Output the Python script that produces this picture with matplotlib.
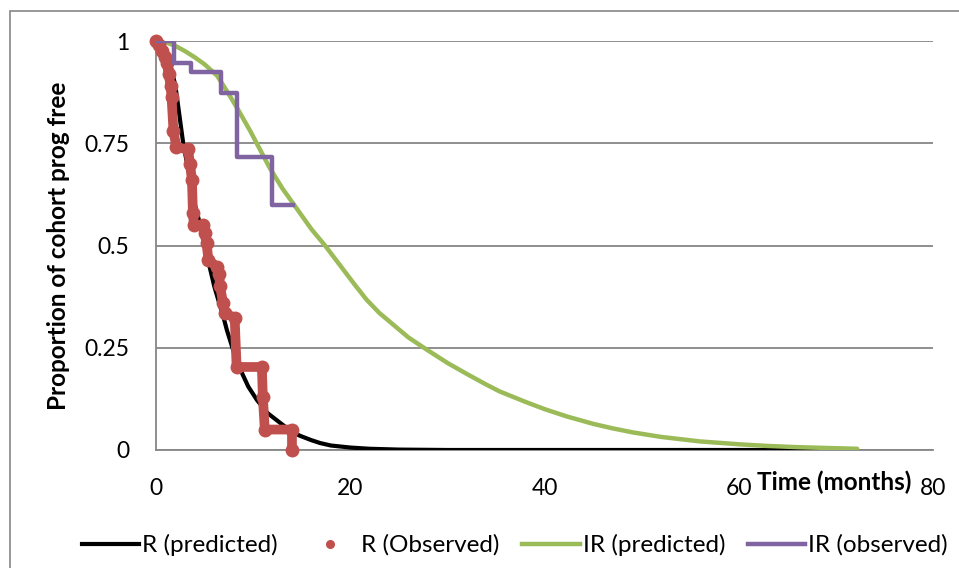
import matplotlib
matplotlib.use("Agg")
from matplotlib import pyplot as plt
from matplotlib.lines import Line2D
from matplotlib.patches import Rectangle

plt.rcParams['font.family'] = ['Lato', 'DejaVu Sans']

# R (predicted) - model curve
t_r_pred = [0, 0.5, 1, 1.5, 2, 2.4, 2.8, 3.2, 3.6, 4, 4.5, 5, 5.6, 6, 6.5, 7, 7.3, 8,
            8.7, 9.5, 10.4, 11.5, 12.8, 13.8, 14.8, 16, 16.9, 18, 20, 22, 25, 30, 40,
            50, 60, 72]
s_r_pred = [1, 0.995, 0.975, 0.94, 0.89, 0.82, 0.75, 0.70, 0.65, 0.60, 0.555, 0.50,
            0.44, 0.40, 0.36, 0.32, 0.293, 0.24, 0.196, 0.155, 0.122, 0.09, 0.066,
            0.048, 0.035, 0.024, 0.017, 0.011, 0.006, 0.003, 0.001, 0, 0, 0, 0, 0]

# R (Observed) - KM path vertices
t_r_obs = [0, 0.3, 0.6, 0.9, 1.1, 1.3, 1.5, 1.6, 1.8, 2.1, 3.3, 3.5, 3.7, 3.8, 3.9,
           4.8, 5.0, 5.2, 5.4, 6.3, 6.5, 6.6, 6.9, 7.1, 8.1, 8.3, 10.9, 11.0, 11.2,
           14.0, 14.0]
s_r_obs = [1, 0.99, 0.975, 0.96, 0.946, 0.92, 0.89, 0.863, 0.78, 0.74, 0.735, 0.70,
           0.66, 0.58, 0.55, 0.55, 0.53, 0.506, 0.465, 0.447, 0.43, 0.40, 0.36, 0.335,
           0.323, 0.203, 0.203, 0.13, 0.05, 0.05, 0]

# IR (predicted)
t_ir_pred = [0, 1, 2, 3, 4, 5, 6.3, 7.5, 8.5, 9.7, 10.7, 11.7, 13, 14.8, 16, 17.4, 19,
             20.5, 21.7, 23, 24.5, 26, 27.9, 30, 32, 34, 35.4, 38, 40, 42.3, 45, 47,
             49.1, 52, 56, 60, 62.9, 66, 69, 72.2]
s_ir_pred = [1, 0.997, 0.988, 0.975, 0.96, 0.943, 0.915, 0.87, 0.83, 0.78, 0.735,
             0.69, 0.64, 0.58, 0.54, 0.50, 0.45, 0.403, 0.367, 0.335, 0.305, 0.275,
             0.245, 0.213, 0.186, 0.16, 0.143, 0.118, 0.1, 0.082, 0.064, 0.053,
             0.043, 0.032, 0.021, 0.014, 0.01, 0.007, 0.005, 0.003]

# IR (observed) - KM steps
t_ir_obs = [0, 1.9, 3.6, 6.7, 8.3, 11.9, 14.1]
s_ir_obs = [1, 0.946, 0.925, 0.873, 0.716, 0.599, 0.599]

x_ticks = [0, 20, 40, 60, 80]
y_ticks = [0, 0.25, 0.5, 0.75, 1]
y_labels = ['0', '0.25', '0.5', '0.75', '1']

c_black = '#000000'
c_red = '#C0504D'
c_green = '#9BBB59'
c_purple = '#8064A2'
c_grid = '#868686'

fig = plt.figure(figsize=(9.59, 5.68), dpi=100)
ax = fig.add_axes([156 / 959, 1 - 450 / 568, 777 / 959, 409 / 568])

ax.plot(t_r_pred, s_r_pred, color=c_black, lw=3, solid_capstyle='round', zorder=3)
ax.plot(t_ir_pred, s_ir_pred, color=c_green, lw=3.2, solid_capstyle='round', zorder=3)
ax.plot(t_r_obs, s_r_obs, color=c_red, lw=7, solid_capstyle='round',
        solid_joinstyle='round', marker='o', ms=9, mec=c_red, zorder=4, clip_on=False)
ax.plot(t_ir_obs, s_ir_obs, color=c_purple, lw=3.2, drawstyle='steps-post', zorder=5)

ax.set_xlim(0, 80)
ax.set_ylim(0, 1)
ax.set_xticks(x_ticks)
ax.set_yticks(y_ticks)
ax.set_yticklabels(y_labels)
ax.tick_params(length=0, labelsize=16.5, colors='black')
ax.tick_params(axis='x', pad=20)
ax.tick_params(axis='y', pad=19)

ax.grid(axis='y', color=c_grid, lw=1.3)
ax.set_axisbelow(True)
for s in ['top', 'right']:
  ax.spines[s].set_visible(False)
for s in ['left', 'bottom']:
  ax.spines[s].set_color(c_grid)
  ax.spines[s].set_linewidth(1.3)

ax.set_ylabel('Proportion of cohort prog free', fontsize=17.5, fontweight='bold')
ax.yaxis.set_label_coords(-0.1107, 0.5)
fig.text(834 / 959, 1 - 482 / 568, 'Time (months)', fontsize=17.5, fontweight='bold',
         ha='center', va='center')

handles = [
  Line2D([], [], color=c_black, lw=3),
  Line2D([], [], color=c_red, ls='none', marker='o', ms=5.5),
  Line2D([], [], color=c_green, lw=3.2),
  Line2D([], [], color=c_purple, lw=3.2),
]
labels = ['R (predicted)', 'R (Observed)', 'IR (predicted)', 'IR (observed)']
fig.legend(handles, labels, loc='center', bbox_to_anchor=(515 / 959, 1 - 545 / 568),
           ncol=4, frameon=False, fontsize=17.5, handlelength=2.35, handletextpad=0.12,
           columnspacing=0.95, borderaxespad=0, borderpad=0)

fig.patches.append(Rectangle((10 / 959, -0.1), 1.2, 1 - 11 / 568 + 0.1,
                             transform=fig.transFigure, fill=False, ec=c_grid, lw=1.2))

fig.savefig('out.png', dpi=100)
